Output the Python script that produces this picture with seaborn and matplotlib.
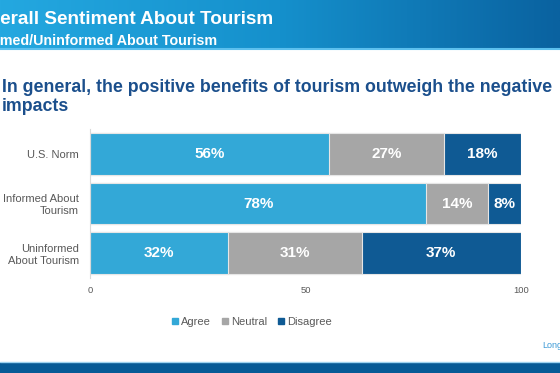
import numpy as np
import matplotlib
matplotlib.use("Agg")
import matplotlib.pyplot as plt
import seaborn as sns
from matplotlib.colors import LinearSegmentedColormap
from matplotlib.patches import Patch

sns.set_theme(style="white")
plt.rcParams["font.family"] = ["Liberation Sans", "DejaVu Sans"]

groups = ["U.S. Norm", "Informed About\nTourism", "Uninformed\nAbout Tourism"]
series = ["Agree", "Neutral", "Disagree"]
agree = [55.5, 78.0, 32.0]
neutral = [26.7, 14.3, 31.0]
disagree = [17.8, 7.7, 37.0]
colors = ["#33a8d7", "#a6a6a6", "#0f5a94"]

fig = plt.figure(figsize=(5.6, 3.73), dpi=100)

# header band with gradient (slide title runs off the left edge, as in the slide)
hdr = fig.add_axes([0, 1 - 48 / 373, 1, 48 / 373])
cmap = LinearSegmentedColormap.from_list("hdr", ["#24a8e0", "#1590cc", "#0a62a0"])
hdr.imshow(np.linspace(0, 1, 256)[None, :], aspect="auto", cmap=cmap, extent=[0, 1, 0, 1])
hdr.set_axis_off()
fig.add_artist(plt.Line2D([0, 1], [1 - 49 / 373] * 2, color="#5cc0ee", lw=1.5))
fig.text(-0.045, 1 - 19 / 373, "Overall Sentiment About Tourism", color="white",
         fontsize=13.6, fontweight="bold", va="center")
fig.text(-0.057, 1 - 41 / 373, "Informed/Uninformed About Tourism", color="white",
         fontsize=10.3, fontweight="bold", va="center")

# footer band
ftr = fig.add_axes([0, 0, 1, 11 / 373])
ftr.set_facecolor("#075a96")
ftr.set_xticks([])
ftr.set_yticks([])
for s in ftr.spines.values():
    s.set_visible(False)
fig.add_artist(plt.Line2D([0, 1], [11.5 / 373] * 2, color="#9fd3f0", lw=1))
fig.text(0.969, 1 - 346 / 373, "Longwoods", color="#3c9ad6", fontsize=6.5, va="center")

# question
fig.text(0.004, 1 - 97 / 373, "In general, the positive benefits of tourism outweigh the negative\nimpacts",
         color="#1b4f8c", fontsize=12.8, fontweight="bold", va="center", linespacing=1.2)

ax = fig.add_axes([90 / 560, 95 / 373, 431 / 560, 149 / 373])
stack = np.cumsum([agree, neutral, disagree], axis=0)
for i in reversed(range(3)):
    sns.barplot(x=stack[i], y=groups, orient="h", color=colors[i], width=0.84,
                edgecolor="#e6e6e6", linewidth=0.8, saturation=1, ax=ax)

lefts = [np.zeros(3), stack[0], stack[1]]
vals = [agree, neutral, disagree]
for i in range(3):
    for j in range(3):
        ax.text(lefts[i][j] + vals[i][j] / 2, j, f"{vals[i][j]:.0f}%", color="white",
                fontsize=11, fontweight="bold", ha="center", va="center")

ax.set_xlim(0, 100)
ax.set_ylim(2.5, -0.5)
ax.set_xticks([0, 50, 100])
ax.tick_params(axis="x", labelsize=6.8, colors="#595959", length=0, pad=6)
ax.tick_params(axis="y", labelsize=8, colors="#595959", length=0, pad=8)
ax.set_xlabel("")
ax.set_ylabel("")
for k, s in ax.spines.items():
    s.set_visible(k == "left")
ax.spines["left"].set_color("#d9d9d9")
ax.spines["left"].set_linewidth(0.8)

handles = [Patch(color=c, label=l) for c, l in zip(colors, series)]
fig.legend(handles=handles, loc="center", bbox_to_anchor=(252 / 560, 1 - 322 / 373), ncol=3,
           frameon=False, fontsize=8, handlelength=0.55, handleheight=0.55,
           handletextpad=0.25, columnspacing=1.0, labelcolor="#595959")

fig.savefig("out.png", dpi=100)
